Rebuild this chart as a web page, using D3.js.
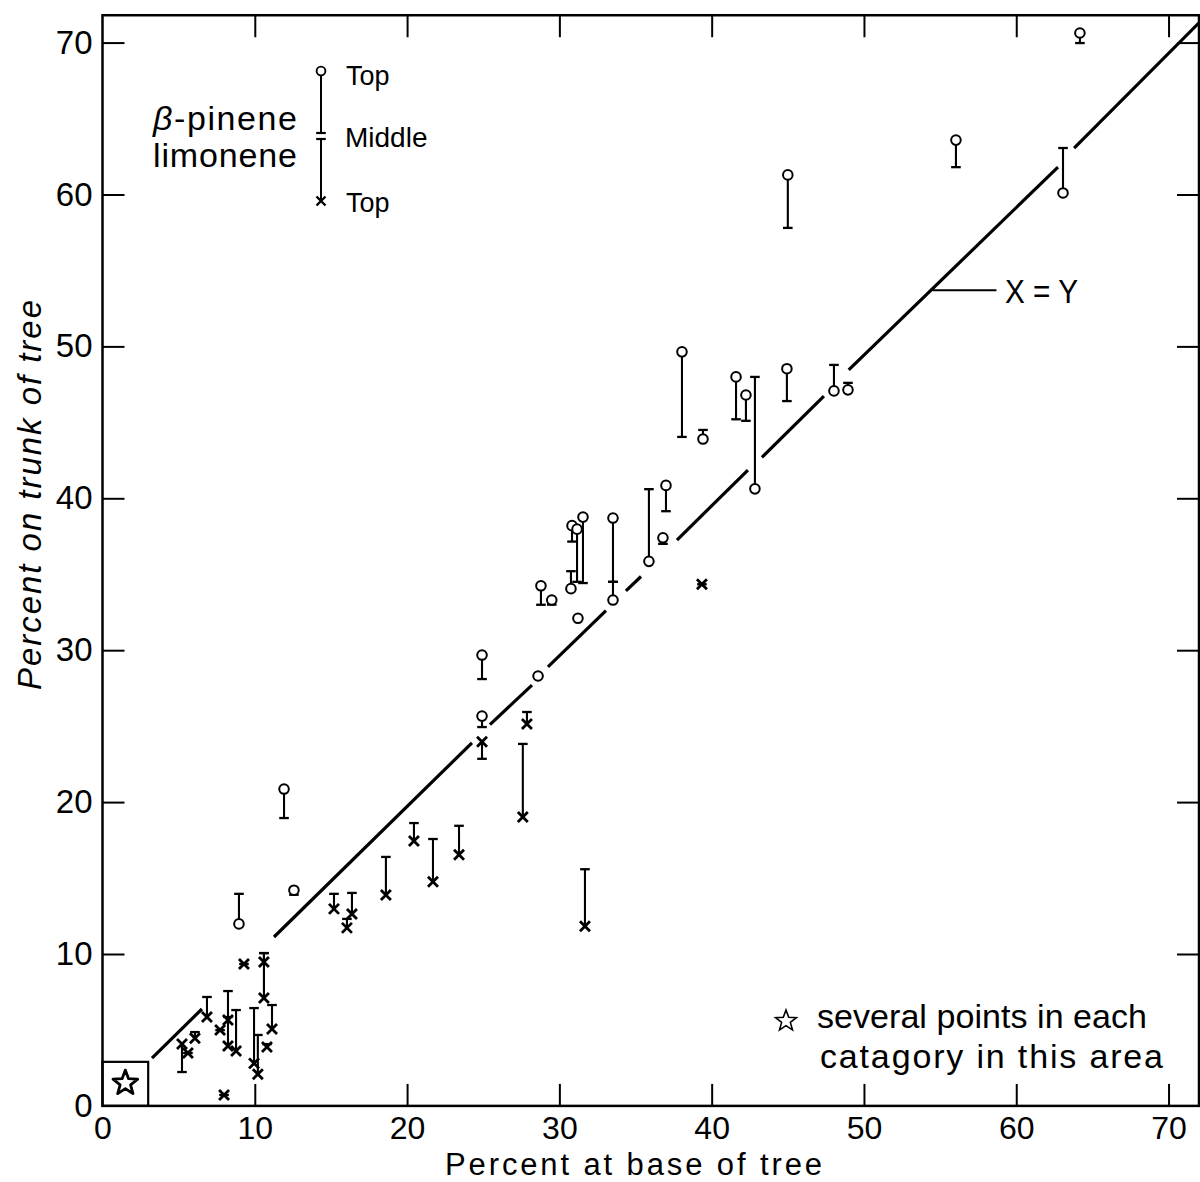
<!DOCTYPE html>
<html><head><meta charset="utf-8">
<script src="https://cdn.jsdelivr.net/npm/d3@7"></script>
<style>body{margin:0;background:#fff}</style>
</head><body>
<svg id="c" width="1200" height="1182"></svg>
<script>
// ---------- data ----------
const xTicks = [0, 10, 20, 30, 40, 50, 60, 70];
const yTicks = [0, 10, 20, 30, 40, 50, 60, 70];
const xTitle = "Percent at base of tree";
const yTitle = "Percent on trunk of tree";

// beta-pinene: base %, top of trunk %, middle of trunk %
const pineneBase = [11.92, 8.96, 12.57, 24.92, 24.92, 28.6, 31.22, 28.79, 29.5, 30.76, 30.83, 31.16, 31.55, 33.52, 33.52, 35.88, 37.0, 36.8, 38.05, 39.43, 41.6, 42.25, 42.84, 44.94, 45.0, 48.03, 48.95, 56.04, 63.07, 64.18];
const pineneTop  = [20.86, 11.98, 14.2, 29.68, 25.66, 28.3, 32.1, 34.24, 33.3, 34.05, 38.2, 37.97, 38.76, 38.7, 33.3, 35.85, 40.85, 37.4, 49.64, 43.9, 47.99, 46.8, 40.62, 48.53, 61.29, 47.07, 47.14, 63.58, 60.1, 70.63];
const pineneMid  = [18.95, 13.96, 13.9, 28.1, 24.94, 28.3, 32.1, 32.99, 33.0, 35.2, 37.15, 34.5, 34.42, 34.5, 34.5, 40.6, 39.15, 37.0, 44.04, 44.5, 45.2, 45.1, 47.99, 46.4, 57.8, 48.78, 47.6, 61.8, 63.06, 69.97];

// limonene: base %, top of trunk %, middle of trunk %
const limoneneBase = [9.29, 10.6, 10.6, 11.13, 10.8, 9.95, 10.2, 8.24, 8.24, 8.77, 7.72, 6.86, 6.07, 5.22, 5.61, 7.98, 15.2, 16.38, 16.05, 18.61, 20.45, 21.7, 23.41, 27.6, 24.92, 27.87, 31.68, 39.36];
const limoneneTop  = [9.34, 9.47, 7.1, 5.06, 3.88, 2.8, 2.09, 3.94, 5.65, 3.61, 4.99, 5.85, 4.46, 4.07, 3.48, 0.72, 12.97, 12.64, 11.72, 13.89, 17.44, 14.75, 16.53, 19.02, 23.97, 25.14, 11.83, 34.34];
const limoneneMid  = [9.34, 10.06, 10.06, 6.64, 4.07, 6.44, 4.67, 7.56, 5.85, 6.31, 4.99, 7.17, 4.86, 2.23, 3.48, 0.72, 13.96, 14.02, 12.31, 16.39, 18.62, 17.57, 18.44, 23.83, 22.85, 25.93, 15.58, 34.34];

// hand-drawn X = Y line, pieces
const identX1 = [3.25, 11.26, 25.44, 29.25, 34.37, 37.72, 43.3, 49.0, 63.8];
const identY1 = [3.15, 11.12, 25.1, 28.9, 33.9, 37.25, 42.7, 48.45, 63.05];
const identX2 = [6.53, 24.26, 28.2, 33.06, 35.36, 42.38, 47.37, 62.74, 72.0];
const identY2 = [6.38, 23.9, 27.7, 32.6, 34.85, 41.86, 46.73, 61.8, 71.3];

// ---------- chart ----------
const FONT = "'Liberation Sans', Arial, sans-serif";
const svg = d3.select("#c");
const x = d3.scaleLinear().domain([0, 72]).range([102.5, 1199]);
const y = d3.scaleLinear().domain([0, 72]).range([1105.9, 12.2]);
const yTopEdge = 71.8;

// frame
svg.append("rect")
  .attr("x", x(0)).attr("y", y(yTopEdge))
  .attr("width", x(72) - x(0)).attr("height", y(0) - y(yTopEdge))
  .attr("fill", "none").attr("stroke", "#000").attr("stroke-width", 2.5);

function styleAxis(g) {
  g.select(".domain").remove();
  g.selectAll(".tick line").attr("stroke", "#000").attr("stroke-width", 2);
  g.attr("font-family", FONT).attr("font-size", 33);
  g.selectAll("text").attr("fill", "#000");
}
const tickVals = xTicks.filter(v => v > 0);

svg.append("g").attr("transform", `translate(0,${y(0)})`)
  .call(d3.axisBottom(x).tickValues(xTicks).tickSizeInner(-22).tickSizeOuter(0).tickPadding(10).tickFormat(d3.format("d")))
  .call(styleAxis)
  .call(g => g.attr("font-size", 32))
  .call(g => g.selectAll(".tick").filter(d => d === 0).select("line").remove());

svg.append("g").attr("transform", `translate(${x(0)},0)`)
  .call(d3.axisLeft(y).tickValues(yTicks).tickSizeInner(-22).tickSizeOuter(0).tickPadding(10).tickFormat(d3.format("d")))
  .call(styleAxis)
  .call(g => g.selectAll(".tick").filter(d => d === 0).select("line").remove());

svg.append("g").attr("transform", `translate(0,${y(yTopEdge)})`)
  .call(d3.axisTop(x).tickValues(tickVals).tickSizeInner(-22).tickSizeOuter(0).tickFormat(""))
  .call(styleAxis);

svg.append("g").attr("transform", `translate(${x(72)},0)`)
  .call(d3.axisRight(y).tickValues(yTicks.filter(v => v > 0)).tickSizeInner(-22).tickSizeOuter(0).tickFormat(""))
  .call(styleAxis);

// axis titles
svg.append("text").text(xTitle)
  .attr("x", 445).attr("y", 1175)
  .attr("textLength", 377).attr("lengthAdjust", "spacing")
  .attr("font-family", FONT).attr("font-size", 31);

svg.append("text").text(yTitle)
  .attr("transform", "translate(41,495) rotate(-90)")
  .attr("text-anchor", "middle")
  .attr("textLength", 390).attr("lengthAdjust", "spacing")
  .attr("font-family", FONT).attr("font-size", 33).attr("font-style", "italic");

// X = Y line
const ident = identX1.map((d, i) => ({x1: d, y1: identY1[i], x2: identX2[i], y2: identY2[i]}));
svg.append("g").selectAll("line").data(ident).join("line")
  .attr("x1", d => x(d.x1)).attr("y1", d => y(d.y1))
  .attr("x2", d => x(d.x2)).attr("y2", d => y(d.y2))
  .attr("stroke", "#000").attr("stroke-width", 3.2).attr("stroke-linecap", "butt");

svg.append("line")
  .attr("x1", x(54.5)).attr("x2", x(58.7)).attr("y1", y(53.7)).attr("y2", y(53.7))
  .attr("stroke", "#000").attr("stroke-width", 2);
svg.append("text").text("X = Y")
  .attr("x", 1005).attr("y", 303)
  .attr("textLength", 73).attr("lengthAdjust", "spacingAndGlyphs")
  .attr("font-family", FONT).attr("font-size", 34);

// data marks
const pinene = pineneBase.map((d, i) => ({x: d, top: pineneTop[i], mid: pineneMid[i]}));
const limonene = limoneneBase.map((d, i) => ({x: d, top: limoneneTop[i], mid: limoneneMid[i]}));
const all = pinene.concat(limonene);
const CAP = 4.8;

const marks = svg.append("g");
marks.selectAll("line.stem").data(all).join("line").attr("class", "stem")
  .attr("x1", d => x(d.x)).attr("x2", d => x(d.x))
  .attr("y1", d => y(d.top)).attr("y2", d => y(d.mid))
  .attr("stroke", "#000").attr("stroke-width", 2.1);
marks.selectAll("line.cap").data(all).join("line").attr("class", "cap")
  .attr("x1", d => x(d.x) - CAP).attr("x2", d => x(d.x) + CAP)
  .attr("y1", d => y(d.mid)).attr("y2", d => y(d.mid))
  .attr("stroke", "#000").attr("stroke-width", 2.3);

const xPath = "M-5,-5L5,5M-5,5L5,-5";
marks.selectAll("path.lim").data(limonene).join("path").attr("class", "lim")
  .attr("transform", d => `translate(${x(d.x)},${y(d.top)})`)
  .attr("d", xPath).attr("stroke", "#000").attr("stroke-width", 2.8).attr("fill", "none");
marks.selectAll("circle.pin").data(pinene).join("circle").attr("class", "pin")
  .attr("cx", d => x(d.x)).attr("cy", d => y(d.top)).attr("r", 4.8)
  .attr("fill", "#fff").attr("stroke", "#000").attr("stroke-width", 2);

// legend
const lg = svg.append("g");
lg.append("line").attr("x1", 321).attr("x2", 321).attr("y1", 71).attr("y2", 133).attr("stroke", "#000").attr("stroke-width", 2);
lg.append("line").attr("x1", 321).attr("x2", 321).attr("y1", 139).attr("y2", 200).attr("stroke", "#000").attr("stroke-width", 2);
lg.append("line").attr("x1", 321 - CAP).attr("x2", 321 + CAP).attr("y1", 133).attr("y2", 133).attr("stroke", "#000").attr("stroke-width", 2.2);
lg.append("line").attr("x1", 321 - CAP).attr("x2", 321 + CAP).attr("y1", 139).attr("y2", 139).attr("stroke", "#000").attr("stroke-width", 2.2);
lg.append("circle").attr("cx", 321).attr("cy", 71).attr("r", 4.4).attr("fill", "#fff").attr("stroke", "#000").attr("stroke-width", 1.9);
lg.append("path").attr("transform", "translate(321,201)").attr("d", "M-4.5,-4.5L4.5,4.5M-4.5,4.5L4.5,-4.5").attr("stroke", "#000").attr("stroke-width", 2.4);

const t1 = lg.append("text").attr("x", 153).attr("y", 130).attr("font-family", FONT).attr("font-size", 34)
  .attr("textLength", 144).attr("lengthAdjust", "spacing");
t1.append("tspan").attr("font-style", "italic").text("β");
t1.append("tspan").text("-pinene");
lg.append("text").attr("x", 153).attr("y", 167).attr("font-family", FONT).attr("font-size", 34)
  .attr("textLength", 144).attr("lengthAdjust", "spacing").text("limonene");
lg.append("text").attr("x", 346).attr("y", 85).attr("font-family", FONT).attr("font-size", 27).text("Top");
lg.append("text").attr("x", 345).attr("y", 147).attr("font-family", FONT).attr("font-size", 28).text("Middle");
lg.append("text").attr("x", 346).attr("y", 212).attr("font-family", FONT).attr("font-size", 27).text("Top");

// star helper
function starPath(R, r) {
  const pts = [];
  for (let i = 0; i < 10; i++) {
    const a = -Math.PI / 2 + i * Math.PI / 5;
    const rad = i % 2 === 0 ? R : r;
    pts.push([rad * Math.cos(a), rad * Math.sin(a)]);
  }
  return "M" + pts.map(p => p[0].toFixed(2) + "," + p[1].toFixed(2)).join("L") + "Z";
}

// low-value box with star
svg.append("rect").attr("x", x(0)).attr("y", y(2.9)).attr("width", x(3) - x(0)).attr("height", y(0) - y(2.9))
  .attr("fill", "none").attr("stroke", "#000").attr("stroke-width", 2.2);
svg.append("path").attr("transform", `translate(${x(1.5)},${y(1.5)})`).attr("d", starPath(13, 5.5))
  .attr("fill", "#fff").attr("stroke", "#000").attr("stroke-width", 2.8).attr("stroke-linejoin", "round");

// note
svg.append("path").attr("transform", "translate(786,1021)").attr("d", starPath(11, 4.6))
  .attr("fill", "#fff").attr("stroke", "#000").attr("stroke-width", 1.6);
svg.append("text").attr("x", 817).attr("y", 1028).attr("font-family", FONT).attr("font-size", 34)
  .attr("textLength", 330).attr("lengthAdjust", "spacing").text("several points in each");
svg.append("text").attr("x", 820).attr("y", 1068).attr("font-family", FONT).attr("font-size", 34)
  .attr("textLength", 343).attr("lengthAdjust", "spacing").text("catagory in this area");
</script>
</body></html>
